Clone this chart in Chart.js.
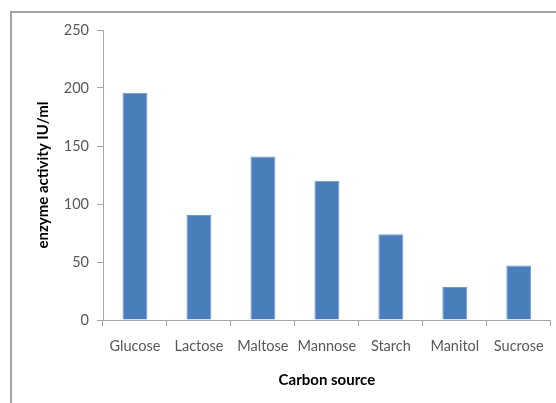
<!DOCTYPE html>
<html>
<head>
<meta charset="utf-8">
<script src="https://cdn.jsdelivr.net/npm/chart.js@4/dist/chart.umd.min.js"></script>
<style>
  html, body { margin: 0; padding: 0; background: #fff; }
  #wrap { position: relative; width: 556px; height: 403px; overflow: hidden; }
  #frame { position: absolute; left: 10px; top: 11px; width: 600px; height: 500px;
           border-top: 2px solid #a3a3a3; border-left: 2px solid #a3a3a3; box-sizing: border-box; }
  canvas { position: absolute; left: 0; top: 0; }
</style>
</head>
<body>
<div id="wrap">
  <div id="frame"></div>
  <canvas id="c" width="556" height="403"></canvas>
</div>
<script>
const categories = ["Glucose", "Lactose", "Maltose", "Mannose", "Starch", "Manitol", "Sucrose"];
const activity = [196, 90.5, 141, 120, 74, 28.5, 47];
const yTicks = [0, 50, 100, 150, 200, 250];

const axisColor = "#a6a6a6";
const fontFamily = "Lato, 'Open Sans', sans-serif";
const tickFont = { family: fontFamily, size: 14.5 };

new Chart(document.getElementById("c"), {
  type: "bar",
  data: {
    labels: categories,
    datasets: [{
      data: activity,
      backgroundColor: "#4a7ebb",
      borderColor: "#6f98cb",
      borderWidth: 1,
      categoryPercentage: 0.78,
      barPercentage: 0.5
    }]
  },
  options: {
    responsive: false,
    animation: false,
    devicePixelRatio: 1,
    layout: { padding: { top: 30, right: 4, bottom: 0, left: 0 } },
    plugins: { legend: { display: false }, tooltip: { enabled: false } },
    scales: {
      x: {
        offset: true,
        grid: { display: true, offset: true, drawOnChartArea: false, drawTicks: true,
                tickLength: 6, color: axisColor },
        border: { display: true, color: axisColor, width: 1 },
        ticks: { color: "#595959", font: tickFont, padding: 12, maxRotation: 0, autoSkip: false },
        title: { display: true, text: "Carbon source", color: "#000",
                 font: { family: fontFamily, size: 15, weight: "bold" },
                 padding: { top: 4, bottom: 14 } },
        afterFit: s => { s.height = 83; }
      },
      y: {
        min: 0, max: 250,
        afterBuildTicks: s => { s.ticks = yTicks.map(v => ({ value: v })); },
        grid: { display: true, drawOnChartArea: false, drawTicks: true, tickLength: 6, color: axisColor },
        border: { display: true, color: axisColor, width: 1 },
        ticks: { color: "#595959", font: tickFont, padding: 8 },
        title: { display: true, text: "enzyme activity IU/ml", color: "#000",
                 font: { family: fontFamily, size: 15, weight: "bold" },
                 padding: { top: 34, bottom: 0 } },
        afterFit: s => { s.width = 103; }
      }
    }
  }
});
</script>
</body>
</html>
